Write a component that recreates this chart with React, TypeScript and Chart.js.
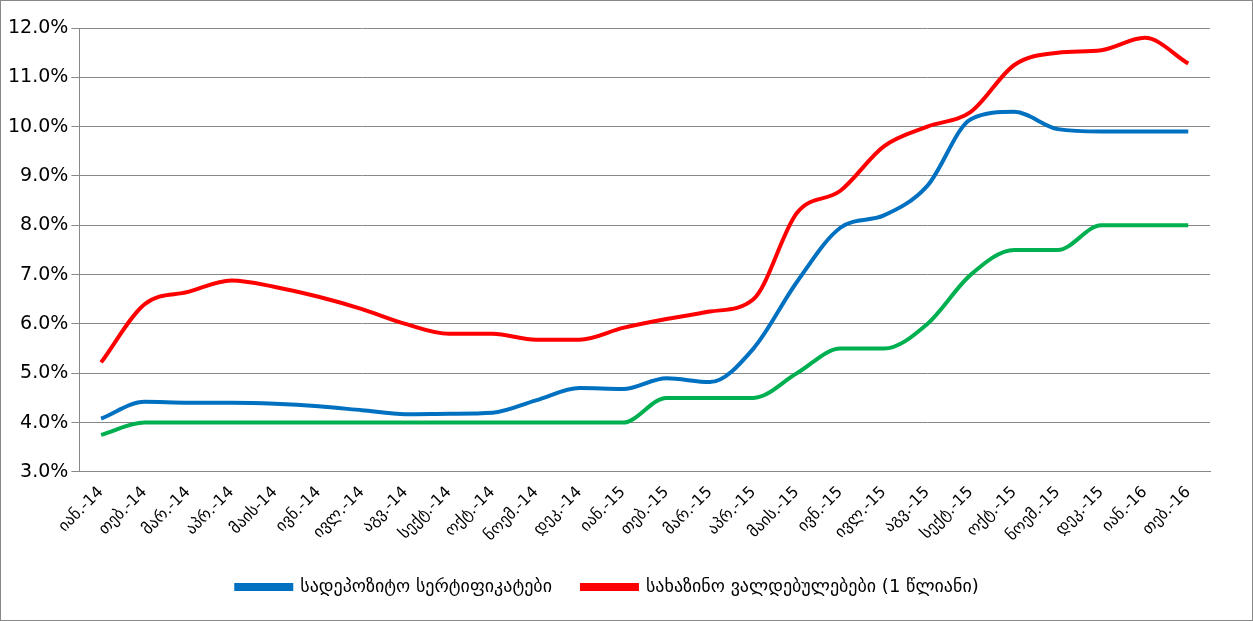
import React, { useEffect, useRef } from "react";
import Chart from "chart.js/auto";

const labels = [
  "იან.-14", "თებ.-14", "მარ.-14", "აპრ.-14", "მაის-14", "ივნ.-14", "ივლ.-14", "აგვ.-14",
  "სექტ.-14", "ოქტ.-14", "ნოემ.-14", "დეკ.-14", "იან.-15", "თებ.-15", "მარ.-15", "აპრ.-15",
  "მაის.-15", "ივნ.-15", "ივლ.-15", "აგვ.-15", "სექტ.-15", "ოქტ.-15", "ნოემ.-15", "დეკ.-15",
  "იან.-16", "თებ.-16",
];
const depositCerts = [
  4.08, 4.42, 4.4, 4.4, 4.38, 4.33, 4.25, 4.17, 4.18, 4.2, 4.45, 4.7, 4.68,
  4.9, 4.82, 5.5, 6.85, 7.95, 8.2, 8.8, 10.15, 10.3, 9.95, 9.9, 9.9, 9.9,
];
const treasuryNotes = [
  5.22, 6.4, 6.65, 6.88, 6.75, 6.55, 6.3, 6.0, 5.8, 5.8, 5.68, 5.68, 5.92,
  6.1, 6.25, 6.5, 8.25, 8.7, 9.6, 10.0, 10.3, 11.25, 11.5, 11.55, 11.8, 11.28,
];
const refinancingRate = [
  3.75, 4.0, 4.0, 4.0, 4.0, 4.0, 4.0, 4.0, 4.0, 4.0, 4.0, 4.0, 4.0,
  4.5, 4.5, 4.5, 5.0, 5.5, 5.5, 6.0, 7.0, 7.5, 7.5, 8.0, 8.0, 8.0,
];

const App: React.FC = () => {
  const chartRef = useRef<HTMLCanvasElement | null>(null);
  const chartInstance = useRef<Chart | null>(null);

  useEffect(() => {
    document.body.style.margin = "0";
    if (chartInstance.current) chartInstance.current.destroy();
    if (chartRef.current) {
      const font = { family: "DejaVu Sans", size: 19 };
      const line = (label: string, data: number[], color: string) => ({
        label,
        data,
        borderColor: color,
        backgroundColor: color,
        borderWidth: 4,
        pointRadius: 0,
        cubicInterpolationMode: "monotone" as const,
      });
      chartInstance.current = new Chart(chartRef.current, {
        type: "line",
        data: {
          labels,
          datasets: [
            line("სადეპოზიტო სერტიფიკატები", depositCerts, "#0070c0"),
            line("სახაზინო ვალდებულებები (1 წლიანი)", treasuryNotes, "#ff0000"),
            line("", refinancingRate, "#00b050"),
          ],
        },
        options: {
          animation: false,
          responsive: false,
          layout: { padding: { left: 4, right: 42, top: 27, bottom: 14 } },
          scales: {
            x: {
              offset: true,
              grid: { display: false },
              border: { color: "#888" },
              ticks: { font: { ...font, size: 16 }, color: "#000", maxRotation: 45, minRotation: 45, autoSkip: false },
            },
            y: {
              min: 3,
              max: 12,
              grid: { color: "#888" },
              border: { color: "#888" },
              ticks: {
                stepSize: 1,
                font,
                color: "#000",
                callback: (v) => Number(v).toFixed(1) + "%",
              },
            },
          },
          plugins: {
            tooltip: { enabled: false },
            legend: {
              position: "bottom",
              labels: {
                font: { ...font, size: 18 },
                color: "#000",
                boxWidth: 55,
                boxHeight: 4,
                padding: 30,
                filter: (item) => item.text !== "",
              },
            },
          },
        },
      });
    }
    return () => {
      if (chartInstance.current) chartInstance.current.destroy();
    };
  }, []);

  return (
    <div style={{ width: 1251, height: 619, border: "1px solid #888" }}>
      <canvas ref={chartRef} width={1251} height={619}></canvas>
    </div>
  );
};

export default App;
